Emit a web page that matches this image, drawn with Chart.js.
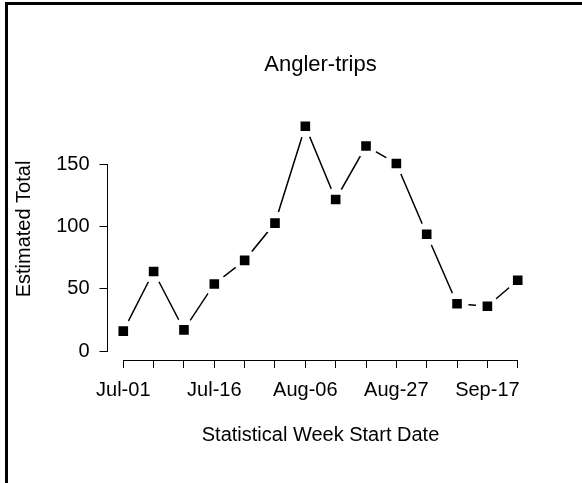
<!DOCTYPE html>
<html>
<head>
<meta charset="utf-8">
<script src="https://cdn.jsdelivr.net/npm/chart.js@4/dist/chart.umd.min.js"></script>
<style>
  html, body { margin: 0; padding: 0; background: #fff; }
  #wrap { position: relative; width: 582px; height: 483px; }
  #frame { position: absolute; left: 5px; top: 2px; right: 0; bottom: 0;
           border-left: 3px solid #000; border-top: 3px solid #000; pointer-events: none; }
</style>
</head>
<body>
<div id="wrap">
  <canvas id="chart" width="582" height="483"></canvas>
  <div id="frame"></div>
</div>
<script>
// statistical weeks (start dates) and estimated angler-trips
var weekLabels = ["Jul-01", "Jul-02", "Jul-09", "Jul-16", "Jul-23", "Jul-30", "Aug-06",
                  "Aug-13", "Aug-20", "Aug-27", "Sep-03", "Sep-10", "Sep-17", "Sep-24"];
var anglerTrips = [16, 64, 17, 54, 73, 103, 181, 122, 165, 151, 94, 38, 36, 57];
var yTickValues = [0, 50, 100, 150];
var labelledWeeks = ["Jul-01", "Jul-16", "Aug-06", "Aug-27", "Sep-17"];

var FONT = "'Liberation Sans', Arial, sans-serif";
Chart.defaults.font.family = FONT;
Chart.defaults.color = '#000';

function toPoints(){
  return anglerTrips.map(function(v, i){ return {x: i, y: v}; });
}

// R-like axis range: 4% padding each side
var xMin = -0.04 * (weekLabels.length - 1), xMax = (weekLabels.length - 1) * 1.04;
var yTop = Math.max.apply(null, anglerTrips);
var yMin = -0.04 * yTop, yMax = yTop * 1.04;

// gaps around markers, axis lines from first to last tick, main + y titles
var axisLines = {
  id: 'axisLines',
  afterDatasetDraw: function(chart, args){
    // white disc over the line at each point so segments stop short
    if (args.index !== 0) return;
    var ctx = chart.ctx;
    ctx.save();
    ctx.fillStyle = '#fff';
    args.meta.data.forEach(function(p){
      ctx.beginPath();
      ctx.arc(p.x, p.y, 11.5, 0, Math.PI * 2);
      ctx.fill();
    });
    ctx.restore();
  },
  afterDraw: function(chart){
    var ctx = chart.ctx, xs = chart.scales.x, ys = chart.scales.y, a = chart.chartArea;
    ctx.save();
    ctx.strokeStyle = '#000';
    ctx.lineWidth = 1;
    ctx.beginPath();
    var yb = Math.round(xs.top) + 0.5;
    ctx.moveTo(xs.getPixelForValue(0), yb);
    ctx.lineTo(xs.getPixelForValue(weekLabels.length - 1), yb);
    var xl = Math.round(ys.right) - 0.5;
    ctx.moveTo(xl, ys.getPixelForValue(yTickValues[0]));
    ctx.lineTo(xl, ys.getPixelForValue(yTickValues[yTickValues.length - 1]));
    ctx.stroke();

    ctx.fillStyle = '#000';
    ctx.textAlign = 'center';
    ctx.textBaseline = 'middle';
    ctx.font = '22px ' + FONT;
    ctx.fillText('Angler-trips', (a.left + a.right) / 2, 65);

    ctx.font = '20px ' + FONT;
    ctx.translate(24, 229);
    ctx.rotate(-Math.PI / 2);
    ctx.fillText('Estimated Total', 0, 0);
    ctx.restore();
  }
};

var ctx = document.getElementById('chart').getContext('2d');
var chart = new Chart(ctx, {
  type: 'line',
  data: {
    datasets: [
      { // connecting line
        data: toPoints(), borderColor: '#000', borderWidth: 1.5, pointRadius: 0,
        tension: 0, fill: false, order: 2
      },
      { // filled squares
        data: toPoints(), showLine: false, pointStyle: 'rect', pointRadius: 6.8,
        pointBackgroundColor: '#000', pointBorderWidth: 0, order: 1
      }
    ]
  },
  options: {
    responsive: false,
    animation: false,
    events: [],
    layout: { padding: { left: 0, top: 117.2, right: 48.5, bottom: 0 } },
    plugins: {
      legend: { display: false },
      tooltip: { enabled: false },
      title: { display: false }
    },
    scales: {
      x: {
        type: 'linear', min: xMin, max: xMax,
        afterFit: function(s){ s.height = 123; },
        afterBuildTicks: function(s){
          s.ticks = weekLabels.map(function(l, i){ return {value: i}; });
        },
        border: { display: false },
        grid: { drawOnChartArea: false, drawTicks: true, tickLength: 8, color: '#000', lineWidth: 1 },
        ticks: {
          autoSkip: false, maxRotation: 0, padding: 10,
          font: { size: 20 },
          callback: function(v){
            var l = weekLabels[v];
            return labelledWeeks.indexOf(l) >= 0 ? l : '';
          }
        },
        title: {
          display: true, text: 'Statistical Week Start Date',
          font: { size: 20 }, padding: { top: 0, bottom: 36 }
        }
      },
      y: {
        min: yMin, max: yMax,
        afterFit: function(s){ s.width = 107.5; },
        afterBuildTicks: function(s){
          s.ticks = yTickValues.map(function(v){ return {value: v}; });
        },
        border: { display: false },
        grid: { drawOnChartArea: false, drawTicks: true, tickLength: 8, color: '#000', lineWidth: 1 },
        ticks: { padding: 10, font: { size: 20 } }
      }
    }
  },
  plugins: [axisLines]
});
</script>
</body>
</html>
